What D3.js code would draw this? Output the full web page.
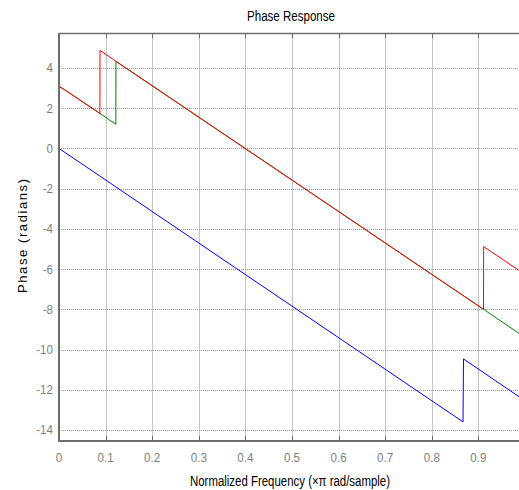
<!DOCTYPE html>
<html>
<head>
<meta charset="utf-8">
<script src="https://cdn.jsdelivr.net/npm/d3@7"></script>
<style>
  html, body { margin: 0; padding: 0; background: #fff; }
  svg { display: block; }
</style>
</head>
<body>
<div id="chart"></div>
<script>
// Tick values
const xTicks = [0, 0.1, 0.2, 0.3, 0.4, 0.5, 0.6, 0.7, 0.8, 0.9];
const yTicks = [4, 2, 0, -2, -4, -6, -8, -10, -12, -14];

// Phase curves: vertices [frequency, phase]
const bluePhase = [[0, 0], [0.867, -13.6], [0.868, -10.47], [1.0, -12.55]];
const greenPhase = [[0, 3.1], [0.088, 1.74], [0.122, 1.2], [0.1222, 4.33], [0.911, -8.0], [1.0, -9.4]];
const redPhase = [[0, 3.1], [0.0878, 1.74], [0.088, 4.87], [0.911, -8.0], [0.9112, -4.88], [1.0, -6.27]];

const seriesNames = ["blue", "green", "red"];
const seriesData = [bluePhase, greenPhase, redPhase];
const seriesColors = ["#0000ff", "#008000", "#ff0000"];

const width = 519, height = 490;
const margin = { top: 33, left: 59, bottom: 49 };
const plotRight = 525; // axes continue past the cropped right edge

const svg = d3.select("#chart")
  .append("svg")
  .attr("width", width)
  .attr("height", height);

const x = d3.scaleLinear().domain([0, 1]).range([margin.left, plotRight]);
const y = d3.scaleLinear().domain([5.74, -14.55]).range([margin.top, height - margin.bottom]);

const plotTop = margin.top, plotBottom = height - margin.bottom;

// Grid
svg.append("g")
  .selectAll("line")
  .data(xTicks.slice(1))
  .enter()
  .append("line")
  .attr("x1", d => Math.round(x(d)) + 0.5)
  .attr("x2", d => Math.round(x(d)) + 0.5)
  .attr("y1", plotTop)
  .attr("y2", plotBottom)
  .attr("stroke", "#c4c4c4")
  .attr("stroke-width", 1);

svg.append("g")
  .selectAll("line")
  .data(yTicks)
  .enter()
  .append("line")
  .attr("x1", margin.left)
  .attr("x2", plotRight)
  .attr("y1", d => Math.round(y(d)) + 0.5)
  .attr("y2", d => Math.round(y(d)) + 0.5)
  .attr("stroke", "#9a9a9a")
  .attr("stroke-width", 1)
  .attr("stroke-dasharray", "1,1");

// Curves
const line = d3.line()
  .x(d => x(d[0]))
  .y(d => y(d[1]));

svg.append("g")
  .selectAll("path")
  .data(seriesData)
  .enter()
  .append("path")
  .attr("class", (d, i) => "phase-" + seriesNames[i])
  .attr("d", line)
  .attr("fill", "none")
  .attr("stroke", (d, i) => seriesColors[i])
  .attr("stroke-width", 1);

// Axes box
const axisColor = "#6e6e6e";
svg.append("line")
  .attr("x1", margin.left).attr("x2", plotRight)
  .attr("y1", plotTop + 0.5).attr("y2", plotTop + 0.5)
  .attr("stroke", axisColor).attr("stroke-width", 1.5);
svg.append("line")
  .attr("x1", margin.left).attr("x2", plotRight)
  .attr("y1", plotBottom).attr("y2", plotBottom)
  .attr("stroke", axisColor).attr("stroke-width", 2);
svg.append("line")
  .attr("x1", margin.left).attr("x2", margin.left)
  .attr("y1", plotTop).attr("y2", plotBottom + 1)
  .attr("stroke", axisColor).attr("stroke-width", 2);

// Tick marks (inward, top and bottom)
svg.append("g")
  .selectAll("line")
  .data(xTicks.slice(1))
  .enter()
  .append("line")
  .attr("x1", d => Math.round(x(d)) + 0.5)
  .attr("x2", d => Math.round(x(d)) + 0.5)
  .attr("y1", plotBottom)
  .attr("y2", plotBottom - 5)
  .attr("stroke", axisColor);
svg.append("g")
  .selectAll("line")
  .data(xTicks.slice(1))
  .enter()
  .append("line")
  .attr("x1", d => Math.round(x(d)) + 0.5)
  .attr("x2", d => Math.round(x(d)) + 0.5)
  .attr("y1", plotTop)
  .attr("y2", plotTop + 5)
  .attr("stroke", axisColor);

// Tick labels
const tickFont = "'Liberation Sans', Arial, sans-serif";
svg.append("g")
  .selectAll("text")
  .data(xTicks)
  .enter()
  .append("text")
  .attr("x", d => x(d))
  .attr("y", plotBottom + 21)
  .attr("text-anchor", "middle")
  .attr("font-family", tickFont)
  .attr("font-size", 13.5)
  .attr("fill", "#808080")
  .attr("transform", d => `translate(${x(d)},0) scale(0.86,1) translate(${-x(d)},0)`)
  .text(d => d === 0 ? "0" : d3.format(".1f")(d));

svg.append("g")
  .selectAll("text")
  .data(yTicks)
  .enter()
  .append("text")
  .attr("x", margin.left - 6)
  .attr("y", d => y(d) + 4.5)
  .attr("text-anchor", "end")
  .attr("font-family", tickFont)
  .attr("font-size", 13.5)
  .attr("fill", "#808080")
  .attr("transform", `translate(${margin.left - 6},0) scale(0.86,1) translate(${-(margin.left - 6)},0)`)
  .text(d => d);

// Title and axis labels
svg.append("text")
  .attr("x", 291)
  .attr("y", 21)
  .attr("text-anchor", "middle")
  .attr("font-family", tickFont)
  .attr("font-size", 14)
  .attr("fill", "#000")
  .attr("textLength", 88)
  .attr("lengthAdjust", "spacingAndGlyphs")
  .text("Phase Response");

svg.append("text")
  .attr("x", 290)
  .attr("y", 486)
  .attr("text-anchor", "middle")
  .attr("font-family", tickFont)
  .attr("font-size", 14)
  .attr("fill", "#000")
  .attr("textLength", 200)
  .attr("lengthAdjust", "spacingAndGlyphs")
  .text("Normalized Frequency (\u00d7\u03c0 rad/sample)");

svg.append("text")
  .attr("transform", "translate(27,236) rotate(-90)")
  .attr("text-anchor", "middle")
  .attr("font-family", "'Liberation Sans', Arial, sans-serif")
  .attr("font-size", 13)
  .attr("fill", "#000")
  .attr("textLength", 114)
  .attr("lengthAdjust", "spacing")
  .text("Phase (radians)");
</script>
</body>
</html>
